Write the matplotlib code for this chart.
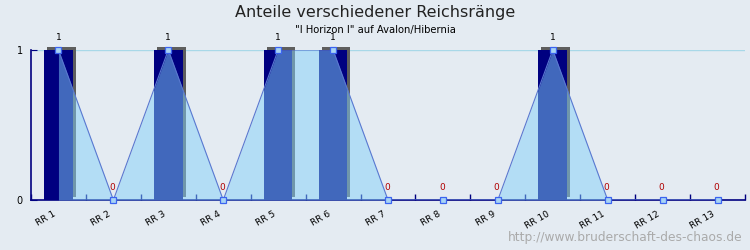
import numpy as np
import matplotlib.pyplot as plt

# chart data
categories = ['RR 1', 'RR 2', 'RR 3', 'RR 4', 'RR 5', 'RR 6', 'RR 7',
              'RR 8', 'RR 9', 'RR 10', 'RR 11', 'RR 12', 'RR 13']
values = [1, 0, 1, 0, 1, 1, 0, 0, 0, 1, 0, 0, 0]
title = 'Anteile verschiedener Reichsränge'
subtitle = '"I Horizon I" auf Avalon/Hibernia'
watermark = 'http://www.bruderschaft-des-chaos.de'

bg = '#e4ebf2'
navy = '#000080'

fig = plt.figure(figsize=(7.5, 2.5), dpi=100, facecolor=bg)
ax = fig.add_axes([31 / 750, 50 / 250, 714 / 750, 150 / 250], facecolor=bg)

x = np.arange(len(categories))
ax.set_xlim(-0.5, len(categories) - 0.5)
ax.set_ylim(0, 1)

# grid line at top
ax.axhline(1, color='#a8d8e8', lw=1, zorder=0.5)

# bars with shadow
bw = 0.52
dx, dy = 3 / 55, 3 / 150
ax.bar(x + dx, values, bottom=dy, width=bw, color='#5e5e5e', zorder=1, clip_on=False)
ax.bar(x, values, width=bw, color=navy, zorder=2)

# area line overlay
ax.fill_between(x, values, 0, color=(131 / 255, 209 / 255, 249 / 255), alpha=0.5, lw=0, zorder=3)
ax.plot(x, values, color='#5a78d0', lw=0.8, zorder=4)
ax.plot(x, values, ls='none', marker='s', ms=5, mfc='#a8d4f4', mec='#3c64f0', mew=0.9,
        zorder=5, clip_on=False)

# value labels
for xi, v in zip(x, values):
    if v:
        ax.text(xi, v + 0.055, str(v), ha='center', va='bottom', fontsize=6.5, color='black')
    else:
        ax.text(xi - 0.02, v + 0.055, str(v), ha='center', va='bottom', fontsize=6.5, color='#b00000')

# axes styling
for s in ['top', 'right']:
    ax.spines[s].set_visible(False)
ax.spines['left'].set_color(navy)
ax.spines['bottom'].set_color(navy)
ax.spines['left'].set_linewidth(1.2)
ax.spines['bottom'].set_linewidth(1.2)

ax.set_yticks([0, 1])
ax.set_yticklabels(['0', '1'], fontsize=7)
ax.tick_params(axis='y', direction='in', length=4, color=navy, pad=6)
ax.set_xticks(np.arange(len(categories) + 1) - 0.5)
ax.set_xticklabels([])
ax.tick_params(axis='x', direction='in', length=4, color=navy, width=1)

for xi, lab in zip(x, categories):
    ax.text(xi - 0.06, -0.09, lab, rotation=30, rotation_mode='anchor', ha='right', va='center',
            fontsize=6.5, transform=ax.transData, clip_on=False)

fig.text(0.5, 1 - 12 / 250, title, ha='center', va='center', fontsize=11.5, color='#222222')
fig.text(0.5, 1 - 30 / 250, subtitle, ha='center', va='center', fontsize=7.2, color='black')
fig.text(0.99, 1 - 238 / 250, watermark, ha='right', va='center', fontsize=8.8, color='#aaaaaa')

fig.savefig('out.png', dpi=100, facecolor=bg)
